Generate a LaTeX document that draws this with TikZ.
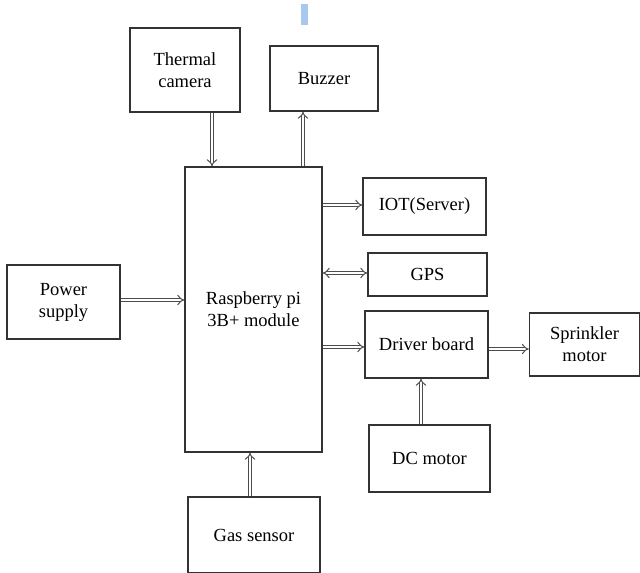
\documentclass[tikz,border=0pt]{standalone}
\usepackage{fontspec}
\setmainfont{Liberation Serif}
\usetikzlibrary{arrows.meta}
\begin{document}
\begin{tikzpicture}[x=1pt,y=-1pt,
  blk/.style={draw=black!80, line width=1.2pt, fill=white, inner sep=0pt, align=center,
    font=\fontsize{18.5}{22}\selectfont},
  dbl/.style={double=white, double distance=2.6pt, line width=1pt, draw=black!70,
    -{Implies[length=4.5pt]}},
  dbl2/.style={double=white, double distance=2.6pt, line width=1pt, draw=black!70,
    {Implies[length=4.5pt]}-{Implies[length=4.5pt]}}]
\useasboundingbox (0,0) rectangle (640,573);
\fill[fill={rgb,255:red,168;green,200;blue,240}] (301,4) rectangle (308,25);
\node[blk, minimum width=110pt, minimum height=84pt] (therm) at (185,70) {Thermal\\camera};
\node[blk, minimum width=108pt, minimum height=65pt] (buzz) at (324,78.5) {Buzzer};
\node[blk, minimum width=137pt, minimum height=285pt] (rpi) at (253.5,309.5) {Raspberry pi\\3B+ module};
\node[blk, minimum width=123pt, minimum height=57pt] (iot) at (424.5,206.5) {IOT(Server)};
\node[blk, minimum width=119pt, minimum height=43pt] (gps) at (427.5,274.5) {GPS};
\node[blk, minimum width=123pt, minimum height=67pt] (drv) at (426.5,344.5) {Driver board};
\node[blk, minimum width=110pt, minimum height=63pt] (spr) at (584.5,344.5) {Sprinkler\\motor};
\node[blk, minimum width=121pt, minimum height=67pt] (dc) at (429.5,458.5) {DC motor};
\node[blk, minimum width=113pt, minimum height=74pt] (pow) at (63.5,302) {Power\\supply};
\node[blk, minimum width=132pt, minimum height=76pt] (gas) at (254,535) {Gas sensor};
\draw[dbl] (therm.south -| 212,0) -- (rpi.north -| 212,0);
\draw[dbl] (rpi.north -| 303,0) -- (buzz.south -| 303,0);
\draw[dbl] (pow.east |- 0,300) -- (rpi.west |- 0,300);
\draw[dbl] (rpi.east |- 0,205) -- (iot.west |- 0,205);
\draw[dbl2] (rpi.east |- 0,273) -- (gps.west |- 0,273);
\draw[dbl] (rpi.east |- 0,347) -- (drv.west |- 0,347);
\draw[dbl] (drv.east |- 0,349) -- (spr.west |- 0,349);
\draw[dbl] (dc.north -| 421,0) -- (drv.south -| 421,0);
\draw[dbl] (gas.north -| 250,0) -- (rpi.south -| 250,0);
\end{tikzpicture}
\end{document}
